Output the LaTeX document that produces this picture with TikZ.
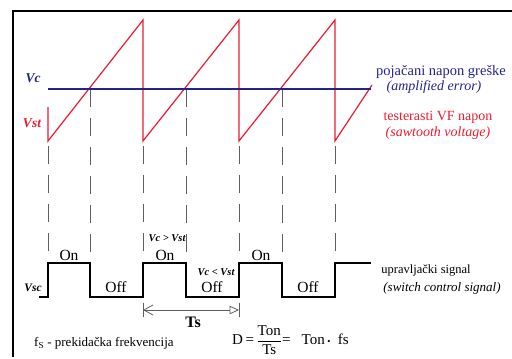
\documentclass[tikz,border=0pt]{standalone}
\usepackage{amsmath}
\usepackage{fontspec}
\setmainfont{Liberation Serif}
\usepackage{xcolor}
\usepackage{tikz}
\usetikzlibrary{arrows.meta, positioning}
\definecolor{vcblue}{RGB}{35,35,140}
\definecolor{stred}{RGB}{236,28,48}
\definecolor{guidegray}{RGB}{95,95,95}

\begin{document}
\begin{tikzpicture}[x=1pt, y=-1pt,
    every node/.style={inner sep=1pt, font=\fontsize{14}{16}\selectfont},
    saw/.style={stred, line width=1.2pt},
    ctrl/.style={vcblue, line width=1.3pt},
    sq/.style={black, line width=1.3pt},
    guide/.style={guidegray, line width=1pt, dash pattern=on 18pt off 11pt},
    sym/.style={font=\fontsize{13.5}{15}\selectfont\bfseries\itshape},
    cond/.style={font=\fontsize{10.5}{12}\selectfont\bfseries\itshape},
    state/.style={font=\fontsize{15.5}{17}\selectfont},
    arr/.style={{Straight Barb[length=3.3mm,width=3.6mm]}-{Triangle[open,length=3.3mm,width=3mm]},
                guidegray, line width=0.8pt}
  ]
    \useasboundingbox (0,0) rectangle (512,359);
    \draw[line width=1.6pt] (13,357) -- (13,11) -- (512,11);

    % sawtooth and error voltage
    \draw[saw] (48,107) -- (48,141) -- (143,20) -- (143,141) -- (239,20)
               -- (239,141) -- (335,20) -- (335,141) -- (372,85);
    \draw[ctrl] (48,89) -- (371,89);

    % crossing guides
    \foreach \x in {90,186,282}
      \draw[guide, dash phase=1pt] (\x,90) -- (\x,262);
    \foreach \x in {48,143,239,335}
      \draw[guide] (\x,146) -- (\x,262);

    % switch control signal
    \draw[sq] (39,297) -- (48,297) -- (48,263) -- (90,263) -- (90,297) -- (143,297)
              -- (143,263) -- (186,263) -- (186,297) -- (239,297) -- (239,263)
              -- (282,263) -- (282,297) -- (335,297) -- (335,263) -- (371,263);

    \node[sym, vcblue] (vc)  at (33,78)  {Vc};
    \node[sym, stred]  (vst) at (32,123) {Vst};
    \node[sym, font=\fontsize{11.5}{13}\selectfont\bfseries\itshape] (vsc) at (33,288) {Vsc};

    \node[vcblue, font=\fontsize{14.5}{16}\selectfont] (err) at (441,72) {pojačani napon greške};
    \node[vcblue, font=\fontsize{14}{16}\selectfont\itshape] (errEn) at (434,87) {(amplified error)};
    \node[stred]  (saw)   at (438,117) {testerasti VF napon};
    \node[stred, font=\fontsize{14}{16}\selectfont\itshape] (sawEn) at (438,133) {(sawtooth voltage)};
    \node[font=\fontsize{12.5}{14}\selectfont] (sig) at (426,270) {upravljački signal};
    \node[font=\fontsize{13}{15}\selectfont\itshape] (sigEn) at (442,288) {(switch control signal)};

    \foreach \x [count=\i] in {69,165,261}
      \node[state] (on\i) at (\x,255) {On};
    \foreach \x [count=\i] in {116,212,308}
      \node[state] (off\i) at (\x,287) {Off};
    \node[cond] (gt) at (167,238) {Vc > Vst};
    \node[cond] (lt) at (216,272) {Vc < Vst};

    % switching period
    \coordinate (tsL) at (143,310);
    \coordinate (tsR) at (239,310);
    \draw[guidegray, line width=1pt] (143,303) -- (143,317) (239,303) -- (239,317);
    \draw[arr] (tsL) -- (tsR);
    \node[font=\fontsize{16}{18}\selectfont\bfseries] (ts) at (193,322) {Ts};

    \node[anchor=west, font=\fontsize{13}{15}\selectfont] (fs) at (33,343) {f\textsubscript{S} - prekidačka frekvencija};
    \node[anchor=west, font=\fontsize{15}{17}\selectfont] (duty) at (231,340)
      {D\,=\,$\dfrac{\text{Ton}}{\text{Ts}}$=\ \ \ Ton\,{\small•}\ \ fs};
  \end{tikzpicture}
\end{document}
